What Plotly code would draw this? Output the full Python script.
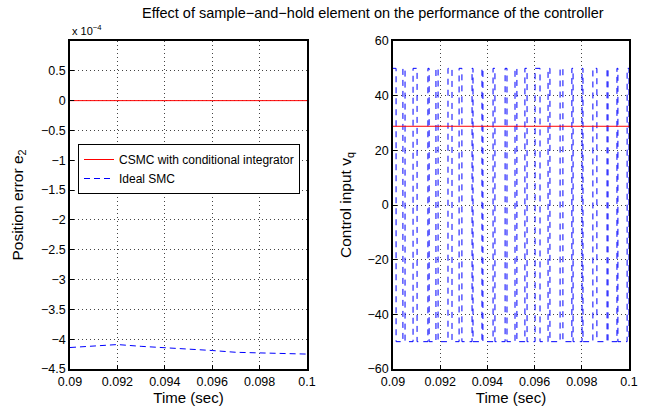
import plotly.graph_objects as go

# Left panel: position error e2
t_left = [0.090, 0.091, 0.092, 0.093, 0.094, 0.095, 0.096, 0.097, 0.098, 0.099, 0.100]
e2_csmc = [0.0] * 11
e2_ideal = [-4.14e-4, -4.115e-4, -4.09e-4, -4.12e-4, -4.14e-4, -4.17e-4, -4.19e-4,
            -4.22e-4, -4.23e-4, -4.25e-4, -4.25e-4]

# Right panel: control input vq
t_csmc = [0.090, 0.100]
vq_csmc = [28.8, 28.8]
t_switch = [0.09000, 0.09013, 0.09042, 0.09051, 0.09085, 0.09102, 0.09148, 0.09153,
            0.09182, 0.09191, 0.09233, 0.09250, 0.09280, 0.09292, 0.09335, 0.09339,
            0.09377, 0.09381, 0.09424, 0.09432, 0.09475, 0.09483, 0.09517, 0.09525,
            0.09559, 0.09568, 0.09602, 0.09623, 0.09657, 0.09665, 0.09708, 0.09720,
            0.09758, 0.09763, 0.09801, 0.09805, 0.09847, 0.09864, 0.09907, 0.09911,
            0.09949, 0.09953, 0.09992, 0.10000]
vq_ideal = [50, -50, 50, -50, 50, -50, 50, -50, 50, -50, 50, -50, 50, -50, 50, -50,
            50, -50, 50, -50, 50, -50, 50, -50, 50, -50, 50, -50, 50, -50, 50, -50,
            50, -50, 50, -50, 50, -50, 50, -50, 50, -50, 50, -50]

x_ticks = [0.09, 0.092, 0.094, 0.096, 0.098, 0.1]
x_ticktext = ["0.09", "0.092", "0.094", "0.096", "0.098", "0.1"]
yl_ticks = [-4.5, -4, -3.5, -3, -2.5, -2, -1.5, -1, -0.5, 0, 0.5]
yr_ticks = [-60, -40, -20, 0, 20, 40, 60]

RED = "#ff0000"
BLUE = "#0000ff"
FONT = "Liberation Sans, Arial, sans-serif"

fig = go.Figure()
fig.add_trace(go.Scatter(x=t_left, y=e2_csmc, mode="lines", name="CSMC with conditional integrator",
                         line=dict(color=RED, width=1), xaxis="x", yaxis="y"))
fig.add_trace(go.Scatter(x=t_left, y=e2_ideal, mode="lines", name="Ideal SMC",
                         line=dict(color=BLUE, width=1, dash="6px,4px"), xaxis="x", yaxis="y"))
fig.add_trace(go.Scatter(x=t_switch, y=vq_ideal, mode="lines", showlegend=False,
                         line=dict(color=BLUE, width=1, dash="6px,5px", shape="hv"),
                         xaxis="x2", yaxis="y2"))
fig.add_trace(go.Scatter(x=t_csmc, y=vq_csmc, mode="lines", showlegend=False,
                         line=dict(color=RED, width=1), xaxis="x2", yaxis="y2"))

axis_common = dict(showline=True, linecolor="black", linewidth=1.5, mirror=True,
                   ticks="inside", ticklen=4, tickcolor="black",
                   showgrid=True, gridcolor="#444444", griddash="1px,3px", gridwidth=1,
                   zeroline=False, tickfont=dict(size=12.5, color="black", family=FONT))

# plot area in page pixels: left 70..307, right 393..629, y 41..369 (body margin removed)
L, R, T, B = 70, 30, 41, 47
W = 659 - L - R

fig.update_layout(
    width=659, height=416,
    margin=dict(l=L, r=R, t=T, b=B),
    plot_bgcolor="white", paper_bgcolor="white",
    font=dict(family=FONT, color="black"),
    xaxis=dict(domain=[0, 237 / W], range=[0.09, 0.1], tickvals=x_ticks, ticktext=x_ticktext,
               title=dict(text="Time (sec)", font=dict(size=15), standoff=2), **axis_common),
    yaxis=dict(range=[-4.5e-4, 1e-4], tickvals=[v * 1e-4 for v in yl_ticks],
               ticktext=[f"{v:g}".replace("-", "\u2212") for v in yl_ticks],
               title=dict(text="Position error e<sub>2</sub>", font=dict(size=15.5), standoff=14),
               **axis_common),
    xaxis2=dict(domain=[323 / W, 1.0], range=[0.09, 0.1], tickvals=x_ticks, ticktext=x_ticktext,
                anchor="y2",
                title=dict(text="Time (sec)", font=dict(size=15), standoff=2), **axis_common),
    yaxis2=dict(range=[-60, 60], tickvals=yr_ticks, anchor="x2",
                ticktext=[f"{v:g}".replace("-", "\u2212") for v in yr_ticks],
                title=dict(text="Control input v<sub>q</sub>", font=dict(size=15.5), standoff=12),
                **axis_common),
    legend=dict(x=8 / W, y=1 - 103 / 328, xanchor="left", yanchor="top", bgcolor="white",
                bordercolor="black", borderwidth=1, font=dict(size=12, color="black"),
                tracegroupgap=0, itemwidth=30),
    annotations=[
        dict(text="Effect of sample\u2212and\u2212hold element on the performance of the controller",
             x=(373 - 70) / W, y=1 + (41 - 13) / 328, xref="paper", yref="paper",
             xanchor="center", yanchor="middle", showarrow=False, font=dict(size=14.5)),
        dict(text="x 10<sup>\u22124</sup>", x=0, y=1 + (41 - 30) / 328, xref="paper", yref="paper",
             xanchor="left", yanchor="middle", showarrow=False, font=dict(size=11)),
    ],
)

fig.write_html("out.html", config={"displayModeBar": False},
               post_script="document.body.style.margin='0';")
